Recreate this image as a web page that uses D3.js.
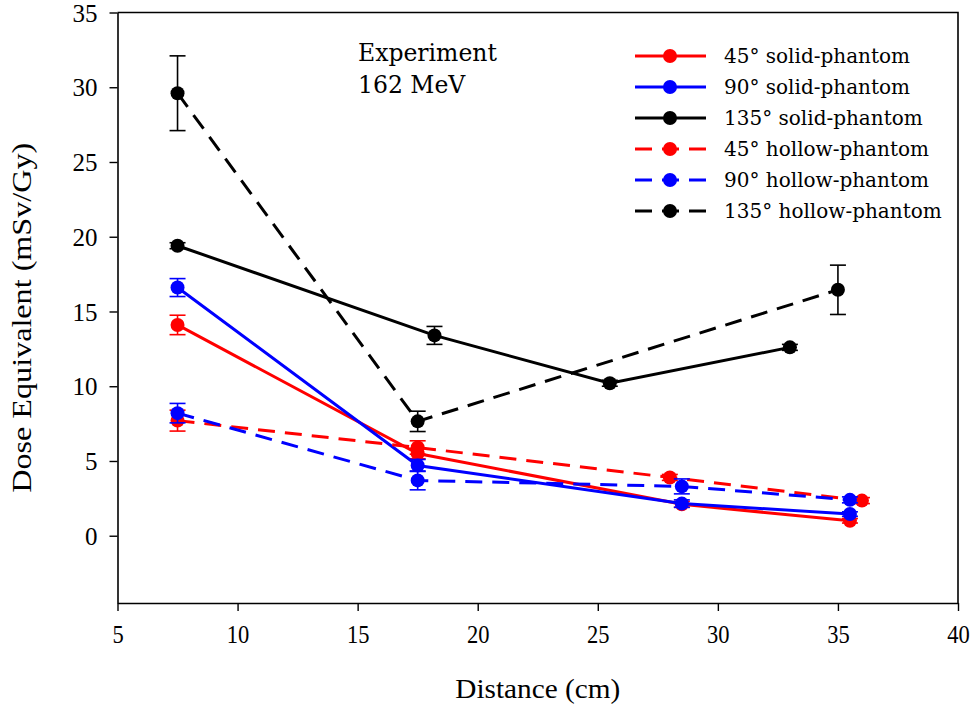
<!DOCTYPE html>
<html>
<head>
<meta charset="utf-8">
<script src="https://cdn.jsdelivr.net/npm/d3@7/dist/d3.min.js"></script>
<style>
  html, body { margin: 0; padding: 0; background: #fff; }
  svg { display: block; }
</style>
</head>
<body>
<script>
// Distances (cm), dose equivalents (mSv/Gy) and error half-widths per series
const solid45X  = [7.5, 17.5, 28.5, 35.5];
const solid45Y  = [14.1, 5.5, 2.1, 1.0];
const solid45E  = [0.65, 0.35, 0.2, 0.15];

const solid90X  = [7.5, 17.5, 28.5, 35.5];
const solid90Y  = [16.6, 4.7, 2.15, 1.45];
const solid90E  = [0.6, 0.4, 0.25, 0.15];

const solid135X = [7.5, 18.2, 25.5, 33];
const solid135Y = [19.4, 13.4, 10.2, 12.6];
const solid135E = [0.2, 0.6, 0.2, 0.2];

const hollow45X = [7.5, 17.5, 28, 36];
const hollow45Y = [7.7, 5.9, 3.9, 2.35];
const hollow45E = [0.7, 0.45, 0.2, 0.2];

const hollow90X = [7.5, 17.5, 28.5, 35.5];
const hollow90Y = [8.2, 3.7, 3.3, 2.4];
const hollow90E = [0.65, 0.63, 0.5, 0.2];

const hollow135X = [7.5, 17.5, 35];
const hollow135Y = [29.6, 7.65, 16.45];
const hollow135E = [2.5, 0.68, 1.65];

const seriesNames = ["45° solid-phantom", "90° solid-phantom", "135° solid-phantom",
                     "45° hollow-phantom", "90° hollow-phantom", "135° hollow-phantom"];
const xTicks = [5, 10, 15, 20, 25, 30, 35, 40];
const yTicks = [0, 5, 10, 15, 20, 25, 30, 35];
const annotation = ["Experiment", "162 MeV"];

const series = [
  { name: seriesNames[0], x: solid45X,  y: solid45Y,  e: solid45E,  color: "#ff0000", dashed: false },
  { name: seriesNames[1], x: solid90X,  y: solid90Y,  e: solid90E,  color: "#0000ff", dashed: false },
  { name: seriesNames[2], x: solid135X, y: solid135Y, e: solid135E, color: "#000000", dashed: false },
  { name: seriesNames[3], x: hollow45X, y: hollow45Y, e: hollow45E, color: "#ff0000", dashed: true },
  { name: seriesNames[4], x: hollow90X, y: hollow90Y, e: hollow90E, color: "#0000ff", dashed: true },
  { name: seriesNames[5], x: hollow135X, y: hollow135Y, e: hollow135E, color: "#000000", dashed: true }
];

const W = 975, H = 711;
const margin = { left: 117.5, right: 17, top: 12.5, bottom: 108 };
const DASH = "17,10";
const serif = "'DejaVu Serif', 'Liberation Serif', serif";
const axisFont = "'Liberation Serif', serif";

const svg = d3.select("body").append("svg").attr("width", W).attr("height", H);

const x = d3.scaleLinear().domain([5, 40]).range([margin.left, W - margin.right]);
const y = d3.scaleLinear().domain([-4.5, 35]).range([H - margin.bottom, margin.top]);

// frame: top and right borders
svg.append("path")
  .attr("d", `M${x(5)},${y(35)}H${x(40)}V${y(-4.5)}`)
  .attr("fill", "none").attr("stroke", "#000").attr("stroke-width", 1.6);

// axes
const xAxis = svg.append("g")
  .attr("transform", `translate(0,${y(-4.5)})`)
  .call(d3.axisBottom(x).tickValues(xTicks).tickSize(8).tickPadding(14).tickSizeOuter(0));
const yAxis = svg.append("g")
  .attr("transform", `translate(${x(5)},0)`)
  .call(d3.axisLeft(y).tickValues(yTicks).tickSize(8).tickPadding(12).tickSizeOuter(0));
[xAxis, yAxis].forEach(g => {
  g.select(".domain").attr("stroke-width", 1.6);
  g.selectAll(".tick line").attr("stroke-width", 1.4);
  g.selectAll(".tick text")
    .attr("font-family", axisFont).attr("font-size", 25).attr("fill", "#000");
});
xAxis.selectAll(".tick text").attr("transform", "scale(0.9,1)");
yAxis.selectAll(".tick text").attr("dy", "0.35em");

// axis titles
svg.append("text")
  .attr("x", (x(5) + x(40)) / 2).attr("y", 698)
  .attr("text-anchor", "middle")
  .attr("font-family", axisFont).attr("font-size", 27)
  .attr("textLength", 165).attr("lengthAdjust", "spacingAndGlyphs")
  .text("Distance (cm)");
svg.append("text")
  .attr("transform", `translate(31,${(y(35) + y(-4.5)) / 2 + 10}) rotate(-90)`)
  .attr("text-anchor", "middle")
  .attr("font-family", axisFont).attr("font-size", 27)
  .attr("textLength", 350).attr("lengthAdjust", "spacingAndGlyphs")
  .text("Dose Equivalent (mSv/Gy)");

// annotation
svg.append("g").selectAll("text").data(annotation).join("text")
  .attr("x", 358).attr("y", (d, i) => 61 + i * 31.5)
  .attr("font-family", serif).attr("font-size", 23.5).attr("fill", "#000")
  .text(d => d);

// series: line, error bars, markers
const line = d3.line().x(d => x(d[0])).y(d => y(d[1]));
const capHalf = 8;
series.forEach(s => {
  const pts = s.x.map((xv, i) => [xv, s.y[i], s.e[i]]);
  const g = svg.append("g");
  g.append("path")
    .attr("d", line(pts))
    .attr("fill", "none").attr("stroke", s.color).attr("stroke-width", 3)
    .attr("stroke-dasharray", s.dashed ? DASH : null);
  const eb = g.selectAll("g.err").data(pts).join("g").attr("class", "err")
    .attr("stroke", s.color).attr("stroke-width", 1.6);
  eb.append("line")
    .attr("x1", d => x(d[0])).attr("x2", d => x(d[0]))
    .attr("y1", d => y(d[1] + d[2])).attr("y2", d => y(d[1] - d[2]));
  eb.append("line")
    .attr("x1", d => x(d[0]) - capHalf).attr("x2", d => x(d[0]) + capHalf)
    .attr("y1", d => y(d[1] + d[2])).attr("y2", d => y(d[1] + d[2]));
  eb.append("line")
    .attr("x1", d => x(d[0]) - capHalf).attr("x2", d => x(d[0]) + capHalf)
    .attr("y1", d => y(d[1] - d[2])).attr("y2", d => y(d[1] - d[2]));
  g.selectAll("circle").data(pts).join("circle")
    .attr("cx", d => x(d[0])).attr("cy", d => y(d[1]))
    .attr("r", 7).attr("fill", s.color);
});

// legend
const legend = svg.append("g");
const row = legend.selectAll("g").data(series).join("g")
  .attr("transform", (d, i) => `translate(0,${56 + i * 31})`);
row.append("line")
  .attr("x1", 635).attr("x2", 706).attr("y1", 0).attr("y2", 0)
  .attr("stroke", d => d.color).attr("stroke-width", 3)
  .attr("stroke-dasharray", d => d.dashed ? DASH : null);
row.append("circle").attr("cx", 670).attr("cy", 0).attr("r", 7).attr("fill", d => d.color);
row.append("text")
  .attr("x", 724).attr("y", 0).attr("dy", "0.35em")
  .attr("font-family", serif).attr("font-size", 20).attr("fill", "#000")
  .text(d => d.name);
</script>
</body>
</html>
